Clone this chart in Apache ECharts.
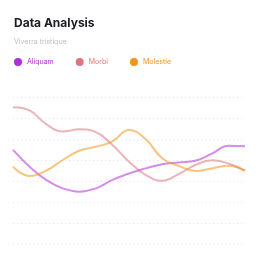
<!DOCTYPE html>
<html>
<head>
<meta charset="utf-8">
<script src="https://cdn.jsdelivr.net/npm/echarts@6/dist/echarts.min.js"></script>
<style>
  html, body { margin: 0; padding: 0; background: #fff; }
  #chart { width: 258px; height: 258px; }
</style>
</head>
<body>
<div id="chart"></div>
<script>
const categories = ["1", "2", "3", "4", "5", "6", "7", "8", "9", "10", "11", "12", "13", "14", "15"];
const aliquam = [44.8, 36.8, 30.5, 26.5, 24.9, 26.5, 30.5, 33.6, 36, 38, 38.8, 39.6, 43, 46.8, 46.5];
const morbi = [65.1, 63.6, 57.1, 53.6, 54.6, 53.3, 47.1, 39.2, 32.9, 30.1, 33.3, 37.6, 39.9, 38.3, 34.9];
const molestie = [36.8, 32.4, 34.9, 40, 44.4, 46.3, 48.9, 54.3, 50, 40.8, 37.2, 34.8, 36, 37.3, 34.9];

const colors = ["#b12fd8", "#d8777f", "#f39418"];
const font = "Inter, 'Noto Sans', sans-serif";

const chart = echarts.init(document.getElementById("chart"), null, { renderer: "canvas" });

function line(name, data, color) {
  return {
    name,
    type: "line",
    data,
    smooth: 0.45,
    symbol: "none",
    itemStyle: { color },
    lineStyle: { color, width: 2, opacity: 0.55 },
  };
}

chart.setOption({
  animation: false,
  backgroundColor: "#fff",
  title: {
    text: "Data Analysis",
    subtext: "Viverra tristique",
    left: 9,
    top: 12,
    itemGap: 9,
    textStyle: { fontFamily: font, fontSize: 12, fontWeight: 700, color: "#1c1c22" },
    subtextStyle: { fontFamily: font, fontSize: 7, color: "#bdbdbd" },
  },
  legend: {
    left: 14,
    top: 58,
    padding: 0,
    icon: "circle",
    itemWidth: 8,
    itemHeight: 8,
    itemGap: 22,
    textStyle: { fontFamily: font, fontSize: 7 },
    data: [
      { name: "Aliquam", textStyle: { color: colors[0] } },
      { name: "Morbi", textStyle: { color: colors[1] } },
      { name: "Molestie", textStyle: { color: colors[2] } },
    ],
  },
  grid: { left: 13, right: 13, top: 97, bottom: 14 },
  xAxis: {
    type: "category",
    data: categories,
    boundaryGap: false,
    axisLine: { show: false },
    axisTick: { show: false },
    axisLabel: { show: false },
  },
  yAxis: {
    type: "value",
    min: 0,
    max: 70,
    interval: 10,
    axisLabel: { show: false },
    splitLine: { lineStyle: { color: "#e4e4e4", type: [1, 3], width: 1 } },
  },
  series: [
    line("Aliquam", aliquam, colors[0]),
    line("Morbi", morbi, colors[1]),
    line("Molestie", molestie, colors[2]),
  ],
});
</script>
</body>
</html>
